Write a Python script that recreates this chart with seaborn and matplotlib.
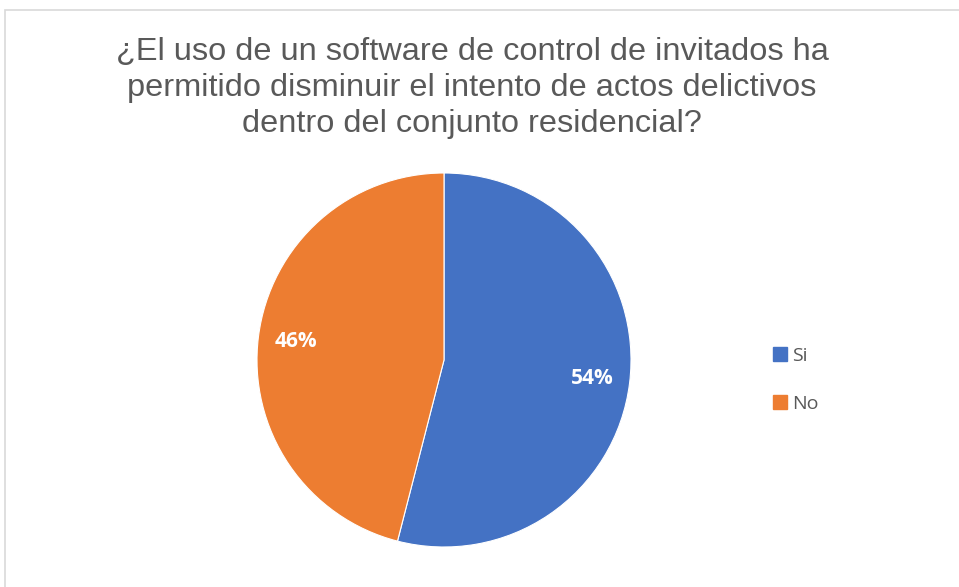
import matplotlib
matplotlib.use("Agg")
import matplotlib.pyplot as plt
import matplotlib.patches as mpatches
import seaborn as sns

labels = ["Si", "No"]
values = [54, 46]
colors = ["#4472c4", "#ed7d31"]
title = "¿El uso de un software de control de invitados ha\npermitido disminuir el intento de actos delictivos\ndentro del conjunto residencial?"

sns.set_style("white")
plt.rcParams["font.family"] = ["Liberation Sans", "DejaVu Sans"]

W, H = 959, 587
fig = plt.figure(figsize=(W / 100, H / 100), dpi=100)

# light frame of the chart area
fig.patches.append(mpatches.Rectangle((5 / W, -0.1), 1.1, 1 - 10 / H + 0.1,
                                      transform=fig.transFigure, fill=False,
                                      edgecolor="#d9d9d9", linewidth=1.2))

cx, cy, r = 444, 360, 187
ax = fig.add_axes([(cx - r) / W, 1 - (cy + r) / H, 2 * r / W, 2 * r / H])
wedges, texts, autotexts = ax.pie(values, colors=colors, startangle=90, counterclock=False,
                                  autopct="%.0f%%", pctdistance=0.8,
                                  wedgeprops=dict(edgecolor="white", linewidth=0.8),
                                  textprops=dict(color="white", fontsize=15, fontweight="bold",
                                                 family=["Open Sans", "DejaVu Sans"]))
ax.set_aspect("equal")
ax.set_xlim(-1, 1)
ax.set_ylim(-1, 1)

fig.text(472 / W, 1 - 88 / H, title, ha="center", va="center", fontsize=23.4,
         color="#595959", linespacing=1.28)

handles = [mpatches.Patch(color=c, label=l) for c, l in zip(colors, labels)]
fig.legend(handles=handles, loc="center left", bbox_to_anchor=(755 / W, 1 - 380 / H),
           frameon=False, handlelength=0.75, handleheight=0.75,
           handletextpad=0.25, labelspacing=1.55, labelcolor="#595959",
           prop=dict(family=["Open Sans", "DejaVu Sans"], size=14))

fig.savefig("out.png", dpi=100)
